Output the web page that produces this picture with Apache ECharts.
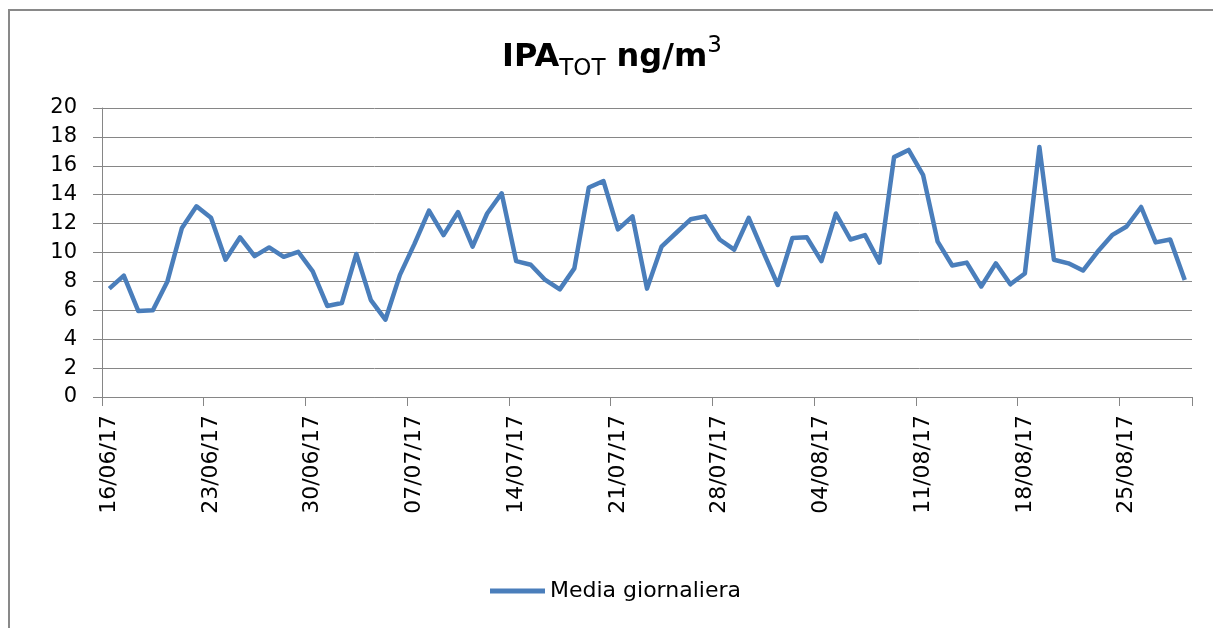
<!DOCTYPE html>
<html lang="it">
<head>
<meta charset="UTF-8" />
<title>IPA TOT ng/m3</title>
<script src="https://cdn.jsdelivr.net/npm/echarts@6/dist/echarts.min.js"></script>
<style type="text/css">
html,body{margin:0;padding:0;background:#fff;}
#main{width:1213px;height:628px;}
</style>
</head>
<body>
<div id="main"></div>
<script type="text/javascript">
// giorni (16/06/17 - 29/08/17)
var giorni = [
  '16/06/17','17/06/17','18/06/17','19/06/17','20/06/17','21/06/17','22/06/17','23/06/17',
  '24/06/17','25/06/17','26/06/17','27/06/17','28/06/17','29/06/17','30/06/17',
  '01/07/17','02/07/17','03/07/17','04/07/17','05/07/17','06/07/17','07/07/17','08/07/17',
  '09/07/17','10/07/17','11/07/17','12/07/17','13/07/17','14/07/17','15/07/17','16/07/17',
  '17/07/17','18/07/17','19/07/17','20/07/17','21/07/17','22/07/17','23/07/17','24/07/17',
  '25/07/17','26/07/17','27/07/17','28/07/17','29/07/17','30/07/17','31/07/17',
  '01/08/17','02/08/17','03/08/17','04/08/17','05/08/17','06/08/17','07/08/17','08/08/17',
  '09/08/17','10/08/17','11/08/17','12/08/17','13/08/17','14/08/17','15/08/17','16/08/17',
  '17/08/17','18/08/17','19/08/17','20/08/17','21/08/17','22/08/17','23/08/17','24/08/17',
  '25/08/17','26/08/17','27/08/17','28/08/17','29/08/17'
];
// media giornaliera IPA tot (ng/m3)
var media = [
  7.5, 8.4, 5.95, 6.0, 8.0, 11.7, 13.2, 12.4, 9.5, 11.05,
  9.75, 10.35, 9.7, 10.05, 8.7, 6.3, 6.5, 9.9, 6.7, 5.35,
  8.45, 10.6, 12.9, 11.2, 12.8, 10.4, 12.7, 14.1, 9.4, 9.15,
  8.1, 7.45, 8.9, 14.5, 14.95, 11.6, 12.5, 7.5, 10.4, 11.35,
  12.3, 12.5, 10.9, 10.2, 12.4, 10.05, 7.75, 11.0, 11.05, 9.4,
  12.7, 10.9, 11.2, 9.3, 16.6, 17.1, 15.35, 10.75, 9.1, 9.3,
  7.65, 9.25, 7.8, 8.55, 17.3, 9.5, 9.25, 8.75, 10.05, 11.2,
  11.8, 13.15, 10.7, 10.9, 8.1
];
var yTicks = [0, 2, 4, 6, 8, 10, 12, 14, 16, 18, 20];

var font = 'DejaVu Sans';
var grigio = '#868686';

var myChart = echarts.init(document.getElementById('main'));
myChart.setOption({
    animation: false,
    backgroundColor: '#fff',
    graphic: [{
        type: 'rect',
        shape: {x: 9, y: 10, width: 1400, height: 800},
        style: {fill: 'none', stroke: '#898989', lineWidth: 2},
        silent: true
    }],
    title: {
        text: '{a|IPA}{b|TOT}{a| ng/m}{c|3}',
        left: 612,
        top: 35,
        padding: 0,
        textAlign: 'center',
        textStyle: {
            rich: {
                a: {fontFamily: font, fontSize: 32, fontWeight: 'bold', color: '#000', lineHeight: 46, verticalAlign: 'middle'},
                b: {fontFamily: font, fontSize: 23, fontWeight: 'normal', color: '#000', lineHeight: 23, verticalAlign: 'bottom'},
                c: {fontFamily: font, fontSize: 23, fontWeight: 'normal', color: '#000', lineHeight: 23, verticalAlign: 'top'}
            }
        }
    },
    legend: {
        left: 490,
        top: 580,
        padding: 0,
        icon: 'rect',
        itemWidth: 55,
        itemHeight: 5,
        textStyle: {fontFamily: font, fontSize: 22, color: '#000'},
        data: ['Media giornaliera']
    },
    grid: {left: 102, right: 21, top: 108, bottom: 231, containLabel: false},
    xAxis: {
        type: 'category',
        data: giorni,
        boundaryGap: true,
        axisLine: {lineStyle: {color: grigio, width: 1}},
        axisTick: {show: true, interval: 6, length: 9, lineStyle: {color: grigio}},
        axisLabel: {interval: 6, rotate: 90, margin: 18, fontFamily: font, fontSize: 22, color: '#000'},
        splitLine: {show: false}
    },
    yAxis: {
        type: 'value',
        min: yTicks[0],
        max: yTicks[yTicks.length - 1],
        interval: 2,
        axisLine: {show: true, lineStyle: {color: grigio, width: 1}},
        axisTick: {show: true, length: 9, lineStyle: {color: grigio}},
        axisLabel: {margin: 25, fontFamily: font, fontSize: 21, color: '#000'},
        splitLine: {show: true, lineStyle: {color: grigio, width: 1}}
    },
    series: [{
        name: 'Media giornaliera',
        type: 'line',
        data: media,
        showSymbol: false,
        symbol: 'none',
        color: '#4a7ebb',
        lineStyle: {color: '#4a7ebb', width: 4.5, join: 'round'}
    }]
});
</script>
</body>
</html>
